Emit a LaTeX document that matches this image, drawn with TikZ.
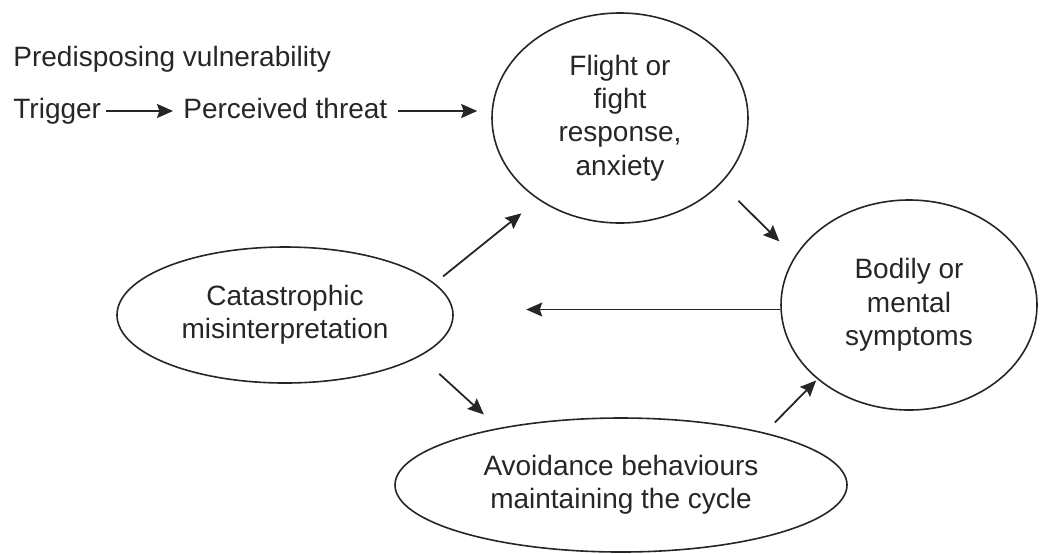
\documentclass[tikz,border=0pt]{standalone}
\usepackage{fontspec}
\setmainfont{Liberation Sans}
\usetikzlibrary{shapes.geometric,arrows.meta}
\definecolor{ink}{RGB}{38,38,38}
\tikzset{
  lbl/.style={inner sep=0pt, text height=10.5pt, text depth=3.5pt, anchor=west},
  bubble/.style={draw, ellipse, inner sep=0pt, line width=0.8pt, align=center,
    font=\fontsize{14}{16.7}\selectfont},
  arr/.style={->, line width=0.9pt, >={Stealth[length=8pt,width=7pt,inset=1.2pt]}}
}
\begin{document}
\begin{tikzpicture}[x=0.5pt, y=-0.5pt, color=ink, font=\fontsize{14}{16.7}\selectfont]
      \useasboundingbox (0,0) rectangle (1042,553);
      \node[lbl] (pred) at (13,59) {Predisposing vulnerability};
      \node[lbl] (trigger) at (13,111) {Trigger};
      \node[lbl] (threat) at (183,111) {Perceived threat};
      \node[bubble, minimum width=128pt, minimum height=105pt] (flight) at (620,118)
        {Flight or\\fight\\response,\\anxiety};
      \node[bubble, minimum width=128pt, minimum height=105pt] (bodily) at (909,305)
        {Bodily or\\mental\\symptoms};
      \node[bubble, minimum width=168pt, minimum height=68pt] (cat) at (285,315)
        {Catastrophic\\misinterpretation};
      \node[bubble, minimum width=226pt, minimum height=67pt] (avoid) at (621,485)
        {Avoidance behaviours\\maintaining the cycle};
      \begin{scope}[arr]
        \draw[shorten <=2.5pt, shorten >=5pt] (trigger.east) to (threat.west);
        \draw[shorten <=5pt, shorten >=7pt] (threat.east) to (threat.east -| flight.west);
        \draw[shorten <=5.4pt, shorten >=10.8pt] (cat.12.9) to (flight.225.8);
        \draw[shorten <=12.2pt, shorten >=10.7pt] (flight.327.3) to (bodily.157.2);
        \draw[shorten >=36.2pt] (bodily.182.7) to (bodily.182.7 -| cat.east);
        \draw[shorten <=13pt, shorten >=10pt] (cat.343.8) to (avoid.155.9);
        \draw[shorten <=7.1pt, shorten >=0.8pt] (avoid.20.2) to (bodily.219.1);
      \end{scope}
    \end{tikzpicture}
\end{document}
